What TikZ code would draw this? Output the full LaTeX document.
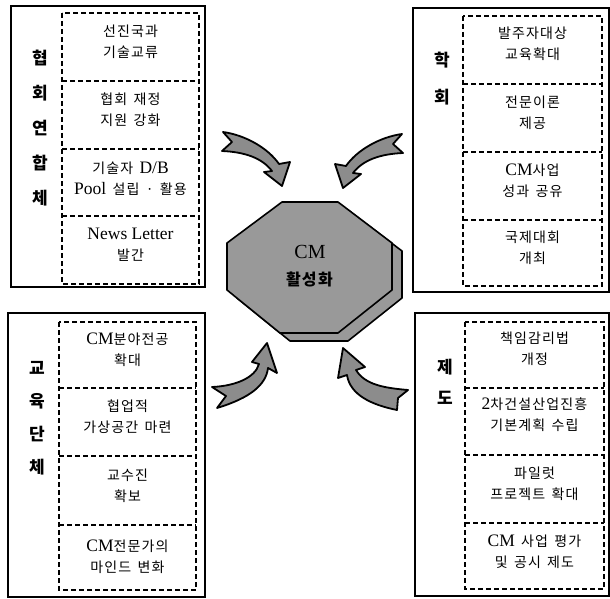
\documentclass[tikz,border=0pt]{standalone}
\usepackage{fontspec}
\setmainfont{Noto Sans CJK KR}[LetterSpace=8]
\newfontfamily\lat{Liberation Serif}[Scale=1.25]
\newcommand\ksp{\hspace{0.45em}}
\begin{document}
\begin{tikzpicture}[x=1pt,y=-1pt,
  outer/.style={draw, line width=1.5pt, anchor=north west, inner sep=0pt, outer sep=0pt},
  ibox/.style={anchor=north west, inner sep=0pt, outer sep=0pt},
  dline/.style={draw, dash pattern=on 5pt off 3pt, line width=1.2pt},
  itxt/.style={align=center, font=\fontsize{14}{21}\selectfont, inner sep=0pt},
  lbl/.style={font=\fontsize{17}{17}\selectfont\bfseries, inner sep=0pt},
  barrow/.style={draw, line width=1.8pt, line join=round, fill=black!45},
  octo/.style={draw, line width=1.6pt, line join=round, fill=black!40}]
\useasboundingbox (0,0) rectangle (610,599);
\fill[white] (0,0) rectangle (610,599);

% outer boxes
\node[outer, minimum width=194pt, minimum height=281pt] (TL) at (11,6) {};
\node[outer, minimum width=196pt, minimum height=284pt] (TR) at (413,8) {};
\node[outer, minimum width=197pt, minimum height=284pt] (BL) at (8,313) {};
\node[outer, minimum width=194pt, minimum height=283pt] (BR) at (415,313) {};

% top-left inner boxes
\node[ibox, minimum width=137pt, minimum height=68pt] (tl1) at (62,13) {};
\node[ibox, minimum width=137pt, minimum height=68pt] (tl2) at (62,81) {};
\node[ibox, minimum width=137pt, minimum height=67pt] (tl3) at (62,149) {};
\node[ibox, minimum width=137pt, minimum height=68pt] (tl4) at (62,216) {};
\draw[dline] (tl1.north west) rectangle (tl4.south east);
\draw[dline] (tl1.south west) -- (tl1.south east);
\draw[dline] (tl2.south west) -- (tl2.south east);
\draw[dline] (tl3.south west) -- (tl3.south east);
\node[itxt] (tt1) at ([yshift=5pt]tl1.center) {선진국과\\기술교류};
\node[itxt] (tt2) at ([yshift=5pt]tl2.center) {협회\ksp 재정\\지원\ksp 강화};
\node[itxt] (tt3) at ([yshift=4pt]tl3.center) {기술자\ksp{\lat D/B}\\{\lat Pool}\ksp 설립\ksp·\ksp 활용};
\node[itxt] (tt4) at ([yshift=5pt]tl4.center) {{\lat News Letter}\\발간};
\node[lbl] (l11) at (40,58) {협};
\node[lbl] (l12) at (40,93) {회};
\node[lbl] (l13) at (40,128) {연};
\node[lbl] (l14) at (40,163) {합};
\node[lbl] (l15) at (40,198) {체};

% top-right inner boxes
\node[ibox, minimum width=139pt, minimum height=68pt] (tr1) at (463,16) {};
\node[ibox, minimum width=139pt, minimum height=68pt] (tr2) at (463,84) {};
\node[ibox, minimum width=139pt, minimum height=68pt] (tr3) at (463,152) {};
\node[ibox, minimum width=139pt, minimum height=66pt] (tr4) at (463,220) {};
\draw[dline] (tr1.north west) rectangle (tr4.south east);
\draw[dline] (tr1.south west) -- (tr1.south east);
\draw[dline] (tr2.south west) -- (tr2.south east);
\draw[dline] (tr3.south west) -- (tr3.south east);
\node[itxt] (rt1) at ([yshift=6pt]tr1.center) {발주자대상\\교육확대};
\node[itxt] (rt2) at ([yshift=5pt]tr2.center) {전문이론\\제공};
\node[itxt] (rt3) at ([yshift=5pt]tr3.center) {{\lat CM}사업\\성과\ksp 공유};
\node[itxt] (rt4) at ([yshift=5pt]tr4.center) {국제대회\\개최};
\node[lbl] (l21) at (442,60) {학};
\node[lbl] (l22) at (442,97) {회};

% bottom-left inner boxes
\node[ibox, minimum width=137pt, minimum height=66pt] (bl1) at (59,322) {};
\node[ibox, minimum width=137pt, minimum height=68pt] (bl2) at (59,388) {};
\node[ibox, minimum width=137pt, minimum height=69pt] (bl3) at (59,456) {};
\node[ibox, minimum width=137pt, minimum height=65pt] (bl4) at (59,525) {};
\draw[dline] (bl1.north west) rectangle (bl4.south east);
\draw[dline] (bl1.south west) -- (bl1.south east);
\draw[dline] (bl2.south west) -- (bl2.south east);
\draw[dline] (bl3.south west) -- (bl3.south east);
\node[itxt] (bt1) at ([yshift=5pt]bl1.center) {{\lat CM}분야전공\\확대};
\node[itxt] (bt2) at ([yshift=5pt]bl2.center) {협업적\\가상공간\ksp 마련};
\node[itxt] (bt3) at ([yshift=5pt]bl3.center) {교수진\\확보};
\node[itxt] (bt4) at ([yshift=1pt]bl4.center) {{\lat CM}전문가의\\마인드\ksp 변화};
\node[lbl] (l31) at (37,368) {교};
\node[lbl] (l32) at (37,401) {육};
\node[lbl] (l33) at (37,434) {단};
\node[lbl] (l34) at (37,467) {체};

% bottom-right inner boxes
\node[ibox, minimum width=139pt, minimum height=66pt] (br1) at (465,322) {};
\node[ibox, minimum width=139pt, minimum height=67pt] (br2) at (465,388) {};
\node[ibox, minimum width=139pt, minimum height=68pt] (br3) at (465,455) {};
\node[ibox, minimum width=139pt, minimum height=66pt] (br4) at (465,523) {};
\draw[dline] (br1.north west) rectangle (br4.south east);
\draw[dline] (br1.south west) -- (br1.south east);
\draw[dline] (br2.south west) -- (br2.south east);
\draw[dline] (br3.south west) -- (br3.south east);
\node[itxt] (rb1) at ([yshift=6pt]br1.center) {책임감리법\\개정};
\node[itxt] (rb2) at ([yshift=7pt]br2.center) {{\lat 2}차건설산업진흥\\기본계획\ksp 수립};
\node[itxt] (rb3) at ([yshift=5pt]br3.center) {파일럿\\프로젝트\ksp 확대};
\node[itxt] (rb4) at ([yshift=4pt]br4.center) {{\lat CM}\ksp 사업\ksp 평가\\및\ksp 공시\ksp 제도};
\node[lbl] (l41) at (445,367) {제};
\node[lbl] (l42) at (445,398) {도};

% central octagon with shadow
\draw[octo] (292,210) -- (348,210) -- (402,251) -- (402,298) -- (348,341) -- (290,341) -- (237,298) -- (237,251) -- cycle;
\draw[octo] (282,202) -- (338,202) -- (392,243) -- (392,290) -- (338,333) -- (280,333) -- (227,290) -- (227,243) -- cycle;
\node[align=center, font=\fontsize{16}{27}\selectfont, inner sep=0pt] (cm) at (310,266) {{\lat CM}\\\textbf{활성화}};

% block arrows
\draw[barrow] (223,132) .. controls (245,135) and (268,148) .. (279,164) -- (290,162) -- (282,186) -- (264,172) -- (272,171) .. controls (262,158) and (245,152) .. (222,151) -- (232,142) -- cycle;
\draw[barrow] (402,134) .. controls (380,137) and (357,150) .. (346,166) -- (335,164) -- (343,188) -- (361,174) -- (353,173) .. controls (363,160) and (380,154) .. (403,153) -- (393,144) -- cycle;
\draw[barrow] (212,387) .. controls (235,386) and (255,378) .. (259,364) -- (252,362) -- (267,343) -- (277,373) -- (268,368) .. controls (266,385) and (250,398) .. (217,408) -- (226,396) -- cycle;
\draw[barrow] (343,348) -- (365,367) -- (356,370) .. controls (365,385) and (385,388) .. (408,390) -- (398,398) -- (397,410) .. controls (372,405) and (350,395) .. (347,375) -- (338,378) -- cycle;
\end{tikzpicture}
\end{document}
